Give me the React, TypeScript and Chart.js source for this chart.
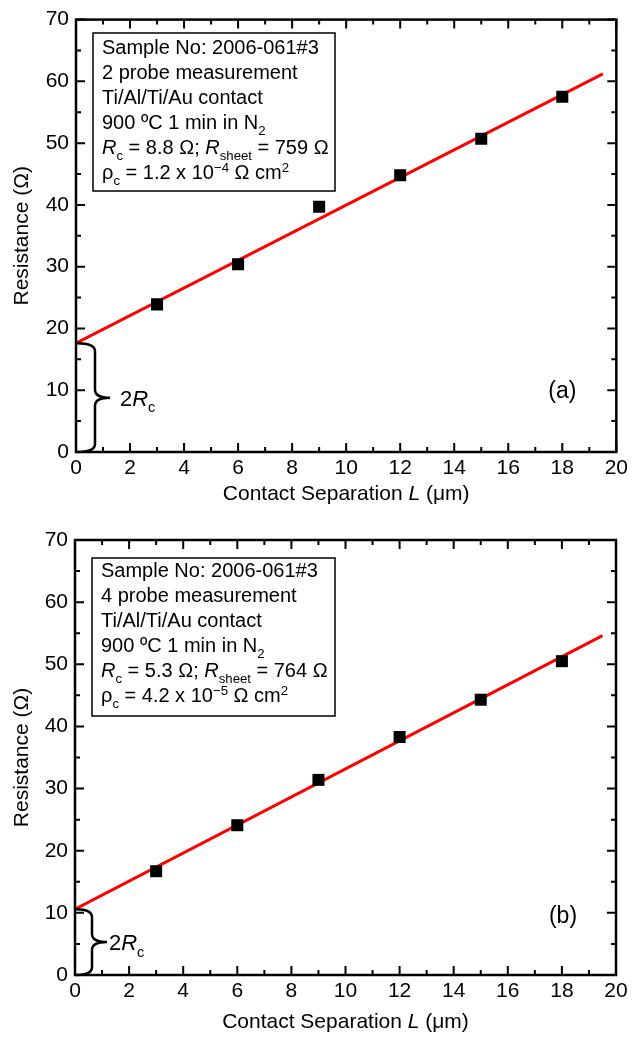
import React, { useEffect, useRef } from "react";
import { Chart, registerables } from "chart.js";

Chart.register(...registerables);

const FONT = '"Liberation Sans", Arial, Helvetica, sans-serif';

type Seg = [string, string];

// ---------------- data ----------------
const separations = [3, 6, 9, 12, 15, 18];
const resistanceTwoProbe = [23.9, 30.4, 39.7, 44.8, 50.7, 57.5];
const resistanceFourProbe = [16.7, 24.1, 31.4, 38.3, 44.3, 50.5];
const fitSeparations = [0, 19.5];
const fitTwoProbe = [17.6, 61.2];
const fitFourProbe = [10.6, 54.6];

const xMajorTicks = [0, 2, 4, 6, 8, 10, 12, 14, 16, 18, 20];
const xMinorTicks = [1, 3, 5, 7, 9, 11, 13, 15, 17, 19];
const yMajorTicks = [0, 10, 20, 30, 40, 50, 60, 70];
const yMinorTicks = [5, 15, 25, 35, 45, 55, 65];

const xAxisTitle: Seg[] = [["Contact Separation ", "n"], ["L", "i"], [" (\u03bcm)", "n"]];
const yAxisTitle = "Resistance (\u03a9)";
const braceLabel: Seg[] = [["2", "n"], ["R", "i"], ["c", "sub"]];
const panelLabels = ["(a)", "(b)"];

const infoTwoProbe: Seg[][] = [
  [["Sample No: 2006-061#3", "n"]],
  [["2 probe measurement", "n"]],
  [["Ti/Al/Ti/Au contact", "n"]],
  [["900 \u00baC 1 min in N", "n"], ["2", "sub"]],
  [["R", "i"], ["c", "sub"], [" = 8.8 \u03a9; ", "n"], ["R", "i"], ["sheet", "sub"], [" = 759 \u03a9", "n"]],
  [["\u03c1", "n"], ["c", "sub"], [" = 1.2 x 10", "n"], ["\u22124", "sup"], [" \u03a9 cm", "n"], ["2", "sup"]],
];
const infoFourProbe: Seg[][] = [
  [["Sample No: 2006-061#3", "n"]],
  [["4 probe measurement", "n"]],
  [["Ti/Al/Ti/Au contact", "n"]],
  [["900 \u00baC 1 min in N", "n"], ["2", "sub"]],
  [["R", "i"], ["c", "sub"], [" = 5.3 \u03a9; ", "n"], ["R", "i"], ["sheet", "sub"], [" = 764 \u03a9", "n"]],
  [["\u03c1", "n"], ["c", "sub"], [" = 4.2 x 10", "n"], ["\u22125", "sup"], [" \u03a9 cm", "n"], ["2", "sup"]],
];

// ---------------- layout ----------------
const panels = [
  {
    top: 0, height: 518, padTop: 14, padRight: 14, yWidth: 76, xHeight: 66,
    values: resistanceTwoProbe, fit: fitTwoProbe, info: infoTwoProbe, label: panelLabels[0],
    box: { x: 93, y: 33, w: 242, h: 158, first: 14 },
    brace: { x1: 19, tip: 34, labelDx: 10 },
    labelPos: { dx: -54, y: 392 },
    xTitleDy: 40,
  },
  {
    top: 518, height: 519, padTop: 22, padRight: 16, yWidth: 75, xHeight: 62,
    values: resistanceFourProbe, fit: fitFourProbe, info: infoFourProbe, label: panelLabels[1],
    box: { x: 92, y: 40, w: 243, h: 158, first: 12 },
    brace: { x1: 17, tip: 32, labelDx: 2 },
    labelPos: { dx: -53, y: 399 },
    xTitleDy: 45,
  },
];

const TEXT = 20;
const LINE = 25;
const TITLE = 21;
const TICK = 21;

function segStyle(s: string, size: number) {
  let sz = size, dy = 0, it = false;
  if (s === "i") it = true;
  if (s === "sub") { sz = size * 0.66; dy = size * 0.3; }
  if (s === "sup") { sz = size * 0.66; dy = -size * 0.38; }
  return { font: `${it ? "italic " : ""}${sz}px ${FONT}`, dy };
}

function richWidth(ctx: CanvasRenderingContext2D, segs: Seg[], size: number) {
  let w = 0;
  for (const [t, s] of segs) {
    ctx.font = segStyle(s, size).font;
    w += ctx.measureText(t).width;
  }
  return w;
}

function drawRich(ctx: CanvasRenderingContext2D, x: number, centerY: number, segs: Seg[], size: number) {
  const base = centerY + size * 0.36;
  let cx = x;
  ctx.textAlign = "left";
  ctx.textBaseline = "alphabetic";
  for (const [t, s] of segs) {
    const st = segStyle(s, size);
    ctx.font = st.font;
    ctx.fillText(t, cx, base + st.dy);
    cx += ctx.measureText(t).width;
  }
}

function makeDecor(p: any) {
  return {
    id: "decor",
    afterDatasetsDraw(chart: any) {
      const { ctx, chartArea: a, scales } = chart;
      const x = scales.x, y = scales.y;
      ctx.save();
      ctx.strokeStyle = "#000";
      ctx.fillStyle = "#000";
      ctx.lineWidth = 2.5;
      ctx.lineCap = "butt";
      ctx.strokeRect(a.left, a.top, a.right - a.left, a.bottom - a.top);

      ctx.lineWidth = 2;
      ctx.beginPath();
      const xt = (v: number, len: number) => {
        const px = x.getPixelForValue(v);
        ctx.moveTo(px, a.bottom); ctx.lineTo(px, a.bottom - len);
        ctx.moveTo(px, a.top); ctx.lineTo(px, a.top + len);
      };
      const yt = (v: number, len: number) => {
        const py = y.getPixelForValue(v);
        ctx.moveTo(a.left, py); ctx.lineTo(a.left + len, py);
        ctx.moveTo(a.right, py); ctx.lineTo(a.right - len, py);
      };
      xMajorTicks.forEach((v) => xt(v, 9));
      xMinorTicks.forEach((v) => xt(v, 5));
      yMajorTicks.forEach((v) => yt(v, 9));
      yMinorTicks.forEach((v) => yt(v, 5));
      ctx.stroke();

      // info box
      const b = p.box;
      ctx.fillStyle = "#fff";
      ctx.fillRect(b.x, b.y, b.w, b.h);
      ctx.lineWidth = 1.5;
      ctx.strokeRect(b.x, b.y, b.w, b.h);
      ctx.fillStyle = "#000";
      p.info.forEach((line: Seg[], i: number) => {
        drawRich(ctx, b.x + 9, b.y + b.first + i * LINE, line, TEXT);
      });

      // brace for 2Rc
      const yTop = y.getPixelForValue(p.fit[0]);
      const yBot = y.getPixelForValue(0);
      const yMid = (yTop + yBot) / 2;
      const x0 = a.left + 1;
      const x1 = a.left + p.brace.x1;
      const xTip = a.left + p.brace.tip;
      const r = 8;
      ctx.lineWidth = 2.5;
      ctx.beginPath();
      ctx.moveTo(x0, yTop);
      ctx.quadraticCurveTo(x1, yTop, x1, yTop + r);
      ctx.lineTo(x1, yMid - r);
      ctx.quadraticCurveTo(x1, yMid, xTip, yMid);
      ctx.quadraticCurveTo(x1, yMid, x1, yMid + r);
      ctx.lineTo(x1, yBot - r);
      ctx.quadraticCurveTo(x1, yBot, x0, yBot);
      ctx.stroke();
      drawRich(ctx, xTip + p.brace.labelDx, yMid, braceLabel, 22);

      // panel label
      ctx.font = `23px ${FONT}`;
      ctx.textAlign = "center";
      ctx.textBaseline = "middle";
      ctx.fillText(p.label, a.right + p.labelPos.dx, p.labelPos.y);

      // x axis title
      const tw = richWidth(ctx, xAxisTitle, TITLE);
      drawRich(ctx, (a.left + a.right) / 2 - tw / 2, a.bottom + p.xTitleDy, xAxisTitle, TITLE);
      ctx.restore();
    },
  };
}

function Panel({ p }: { p: any }) {
  const ref = useRef<HTMLCanvasElement>(null);
  useEffect(() => {
    const chart = new Chart(ref.current as HTMLCanvasElement, {
      type: "scatter",
      data: {
        datasets: [
          {
            data: separations.map((s, i) => ({ x: s, y: p.values[i] })),
            showLine: false,
            pointStyle: "rect",
            pointRadius: 8.5,
            pointBorderWidth: 0,
            backgroundColor: "#000",
            borderColor: "#000",
            order: 1,
          },
          {
            data: fitSeparations.map((s, i) => ({ x: s, y: p.fit[i] })),
            showLine: true,
            pointRadius: 0,
            borderColor: "#ff0000",
            borderWidth: 3,
            order: 2,
          },
        ],
      } as any,
      options: {
        animation: false,
        responsive: false,
        devicePixelRatio: 1,
        events: [],
        layout: { padding: { top: p.padTop, right: p.padRight, left: 0, bottom: 0 } },
        plugins: { legend: { display: false }, tooltip: { enabled: false } },
        scales: {
          x: {
            type: "linear",
            min: 0,
            max: 20,
            afterFit: (s: any) => { s.height = p.xHeight; },
            afterBuildTicks: (s: any) => { s.ticks = xMajorTicks.map((v) => ({ value: v })); },
            grid: { display: false, drawTicks: false },
            border: { display: false },
            ticks: { autoSkip: false, maxRotation: 0, padding: 4, color: "#000", font: { family: FONT, size: TICK } },
          },
          y: {
            type: "linear",
            min: 0,
            max: 70,
            afterFit: (s: any) => { s.width = p.yWidth; },
            afterBuildTicks: (s: any) => { s.ticks = yMajorTicks.map((v) => ({ value: v })); },
            grid: { display: false, drawTicks: false },
            border: { display: false },
            ticks: { autoSkip: false, padding: 7, color: "#000", font: { family: FONT, size: TICK } },
            title: {
              display: true,
              text: yAxisTitle,
              color: "#000",
              font: { family: FONT, size: TITLE },
              padding: { top: 10, bottom: 0 },
            },
          },
        },
      } as any,
      plugins: [makeDecor(p)],
    });
    return () => chart.destroy();
  }, []);
  return (
    <canvas
      ref={ref}
      width={632}
      height={p.height}
      style={{ position: "absolute", left: 0, top: p.top, width: 632, height: p.height, display: "block" }}
    />
  );
}

export default function App() {
  return (
    <div style={{ position: "absolute", left: 0, top: 0, width: 632, height: 1037, background: "#fff" }}>
      {panels.map((p, i) => (
        <Panel key={i} p={p} />
      ))}
    </div>
  );
}
